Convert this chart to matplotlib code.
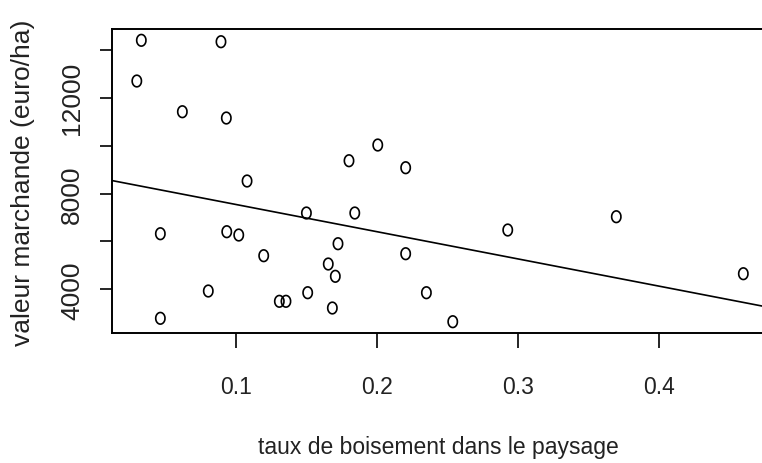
import numpy as np
import matplotlib
matplotlib.use("Agg")
import matplotlib.pyplot as plt
from matplotlib.path import Path

# taux de boisement (x) et valeur marchande (y)
taux = [0.0326, 0.0891, 0.0294, 0.0617, 0.0929, 0.2003, 0.1799, 0.1076,
        0.1497, 0.1840, 0.2201, 0.2925, 0.3695, 0.0461, 0.0932, 0.1017,
        0.1721, 0.1194, 0.1652, 0.1702, 0.0801, 0.1506, 0.1305, 0.1352,
        0.1681, 0.0461, 0.2201, 0.2348, 0.2535, 0.4596]
valeur = [14397, 14338, 12697, 11415, 11152, 10025, 9369, 8522,
          7186, 7186, 9077, 6476, 7031, 6321, 6405, 6267,
          5904, 5403, 5056, 4543, 3929, 3858, 3499, 3499,
          3219, 2789, 5486, 3858, 2647, 4651]

xticks = [0.1, 0.2, 0.3, 0.4]
yticks = [4000, 6000, 8000, 10000, 12000, 14000]
ylabels = ["4000", "", "8000", "", "12000", ""]

x = np.array(taux)
y = np.array(valeur)
pente, ordonnee = np.polyfit(x, y, 1)

# cercle un peu ecrase (image d'origine etiree)
t = np.linspace(0, 2 * np.pi, 40)
ellipse = Path(np.column_stack([0.8 * np.cos(t), np.sin(t)]))

police = "Liberation Sans"

fig = plt.figure(figsize=(7.62, 4.64), dpi=100)
ax = fig.add_axes([112 / 762, (464 - 334.3) / 464, (768 - 112) / 762, (334.3 - 29.5) / 464])

ax.scatter(x, y, marker=ellipse, s=70, facecolors="none", edgecolors="black", linewidths=1.2)
xs = np.array([0.0118, 0.4771])
ax.plot(xs, ordonnee + pente * xs, color="black", lw=1.2)

ax.set_xlim(0.0118, 0.4771)
ax.set_ylim(2163, 14890)

ax.set_xticks(xticks)
ax.set_xticklabels([str(v) for v in xticks], family=police, fontsize=16.5, color="#222222")
ax.set_yticks(yticks)
ax.set_yticklabels(ylabels, family=police, fontsize=19, rotation=90, va="center", color="#222222")
ax.tick_params(axis="x", length=11, width=1.2, pad=19)
ax.tick_params(axis="y", length=9, width=1.2, pad=11)

for s in ax.spines.values():
    s.set_linewidth(1.4)

fig.text(438 / 762, 1 - 448 / 464, "taux de boisement dans le paysage", family=police,
         fontsize=16.5, ha="center", va="center", color="#222222")
fig.text(23 / 762, 1 - 182.5 / 464, "valeur marchande (euro/ha)", family=police,
         fontsize=19, rotation=90, ha="center", va="center", color="#222222")

fig.savefig("out.png", dpi=100)
